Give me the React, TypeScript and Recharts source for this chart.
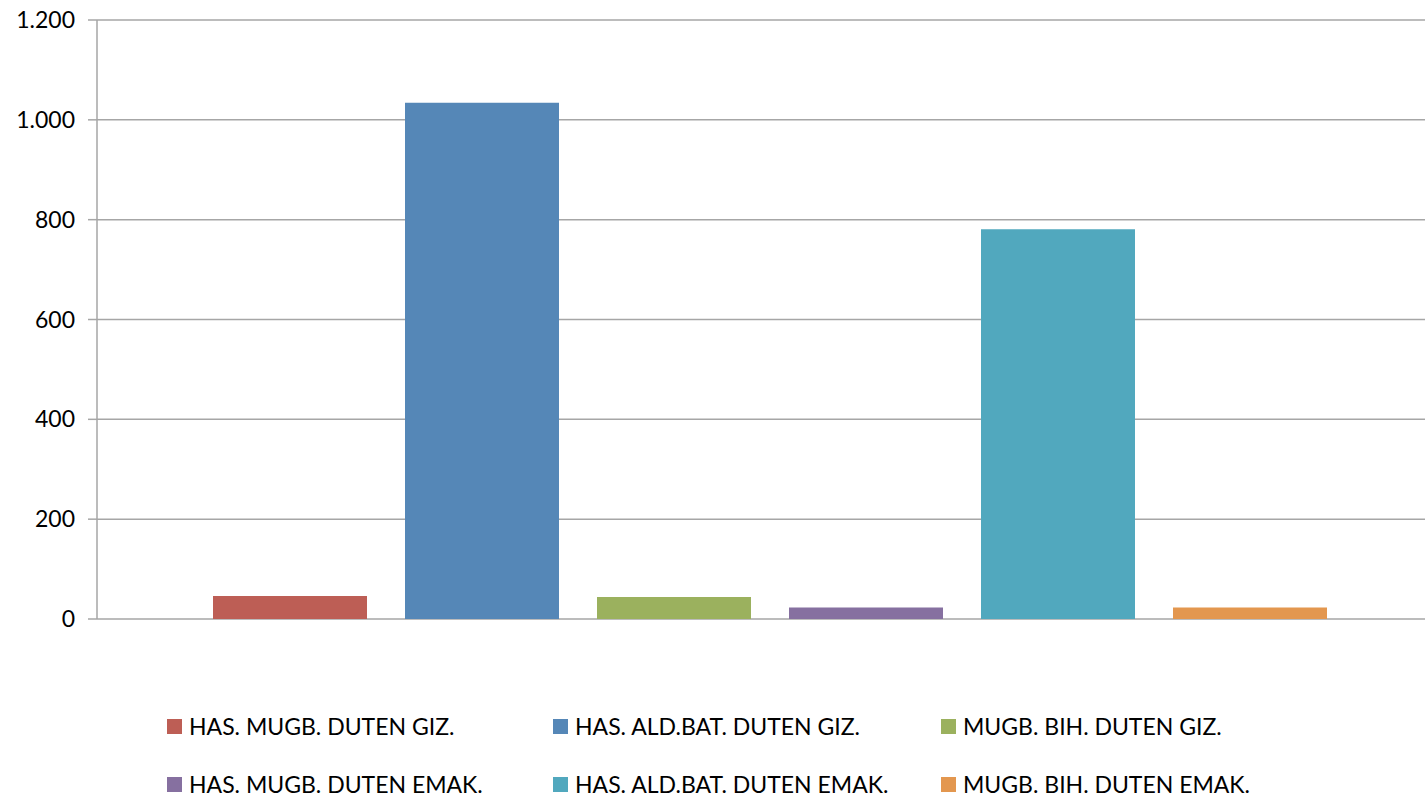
import React from "react";
import { BarChart, Bar, XAxis, YAxis, CartesianGrid, Legend } from "recharts";

const categories = [""];
const seriesNames = [
  "HAS. MUGB. DUTEN GIZ.",
  "HAS. ALD.BAT. DUTEN GIZ.",
  "MUGB. BIH. DUTEN GIZ.",
  "HAS. MUGB. DUTEN EMAK.",
  "HAS. ALD.BAT. DUTEN EMAK.",
  "MUGB. BIH. DUTEN EMAK.",
];
const seriesValues = [46, 1034, 44, 23, 781, 23];
const seriesColors = ["#BD5E55", "#5587B7", "#9BB15E", "#8670A0", "#51A8BE", "#E3974F"];
const yTicks = [0, 200, 400, 600, 800, 1000, 1200];

const data = categories.map((c) => {
  const row: Record<string, any> = { name: c };
  seriesValues.forEach((v, i) => {
    row["s" + i] = v;
  });
  return row;
});

const FONT = "Lato, 'Liberation Sans', sans-serif";

const fmt = (v: number) => {
  const s = String(Math.round(v));
  return s.replace(/\B(?=(\d{3})+(?!\d))/g, ".");
};

const legendCols = [167, 553, 941];

const LegendContent = (props: any) => {
  const payload = [...(props.payload || [])].sort(
    (a: any, b: any) => seriesNames.indexOf(a.value) - seriesNames.indexOf(b.value)
  );
  return (
    <div style={{ position: "relative", width: 1425, height: 99, fontFamily: FONT }}>
      {payload.map((p: any, i: number) => {
        const col = i % 3;
        const row = Math.floor(i / 3);
        return (
          <div
            key={i}
            style={{
              position: "absolute",
              left: legendCols[col],
              top: 14 + row * 58,
              height: 24,
              display: "flex",
              alignItems: "center",
              whiteSpace: "nowrap",
            }}
          >
            <span style={{ display: "inline-block", width: 15, height: 15, background: p.color, marginRight: 7 }} />
            <span style={{ fontSize: 23, color: "#000", lineHeight: "24px" }}>{p.value}</span>
          </div>
        );
      })}
    </div>
  );
};

export default function App() {
  return (
    <div style={{ position: "absolute", left: 0, top: 0, width: 1425, height: 799, overflow: "hidden", background: "#fff" }}>
      <BarChart
        width={1445}
        height={799}
        data={data}
        margin={{ top: 20, right: 2, bottom: 180, left: 0 }}
        barSize={154}
        barGap={38}
      >
        <CartesianGrid vertical={false} stroke="#a6a6a6" strokeWidth={1.5} />
        <XAxis dataKey="name" hide />
        <YAxis
          width={97}
          domain={[0, 1200]}
          ticks={yTicks}
          interval={0}
          tickFormatter={fmt}
          axisLine={{ stroke: "#a6a6a6", strokeWidth: 1.5 }}
          tickLine={{ stroke: "#a6a6a6", strokeWidth: 1.5 }}
          tickSize={9}
          tickMargin={13}
          tick={{ fill: "#000", fontSize: 23, fontFamily: FONT }}
        />
        <Legend
          layout="horizontal"
          verticalAlign="middle"
          content={<LegendContent />}
          wrapperStyle={{ top: 700, left: 0, width: 1425, height: 99 }}
        />
        {seriesNames.map((n, i) => (
          <Bar key={n} dataKey={"s" + i} name={n} fill={seriesColors[i]} isAnimationActive={false} />
        ))}
      </BarChart>
    </div>
  );
}
